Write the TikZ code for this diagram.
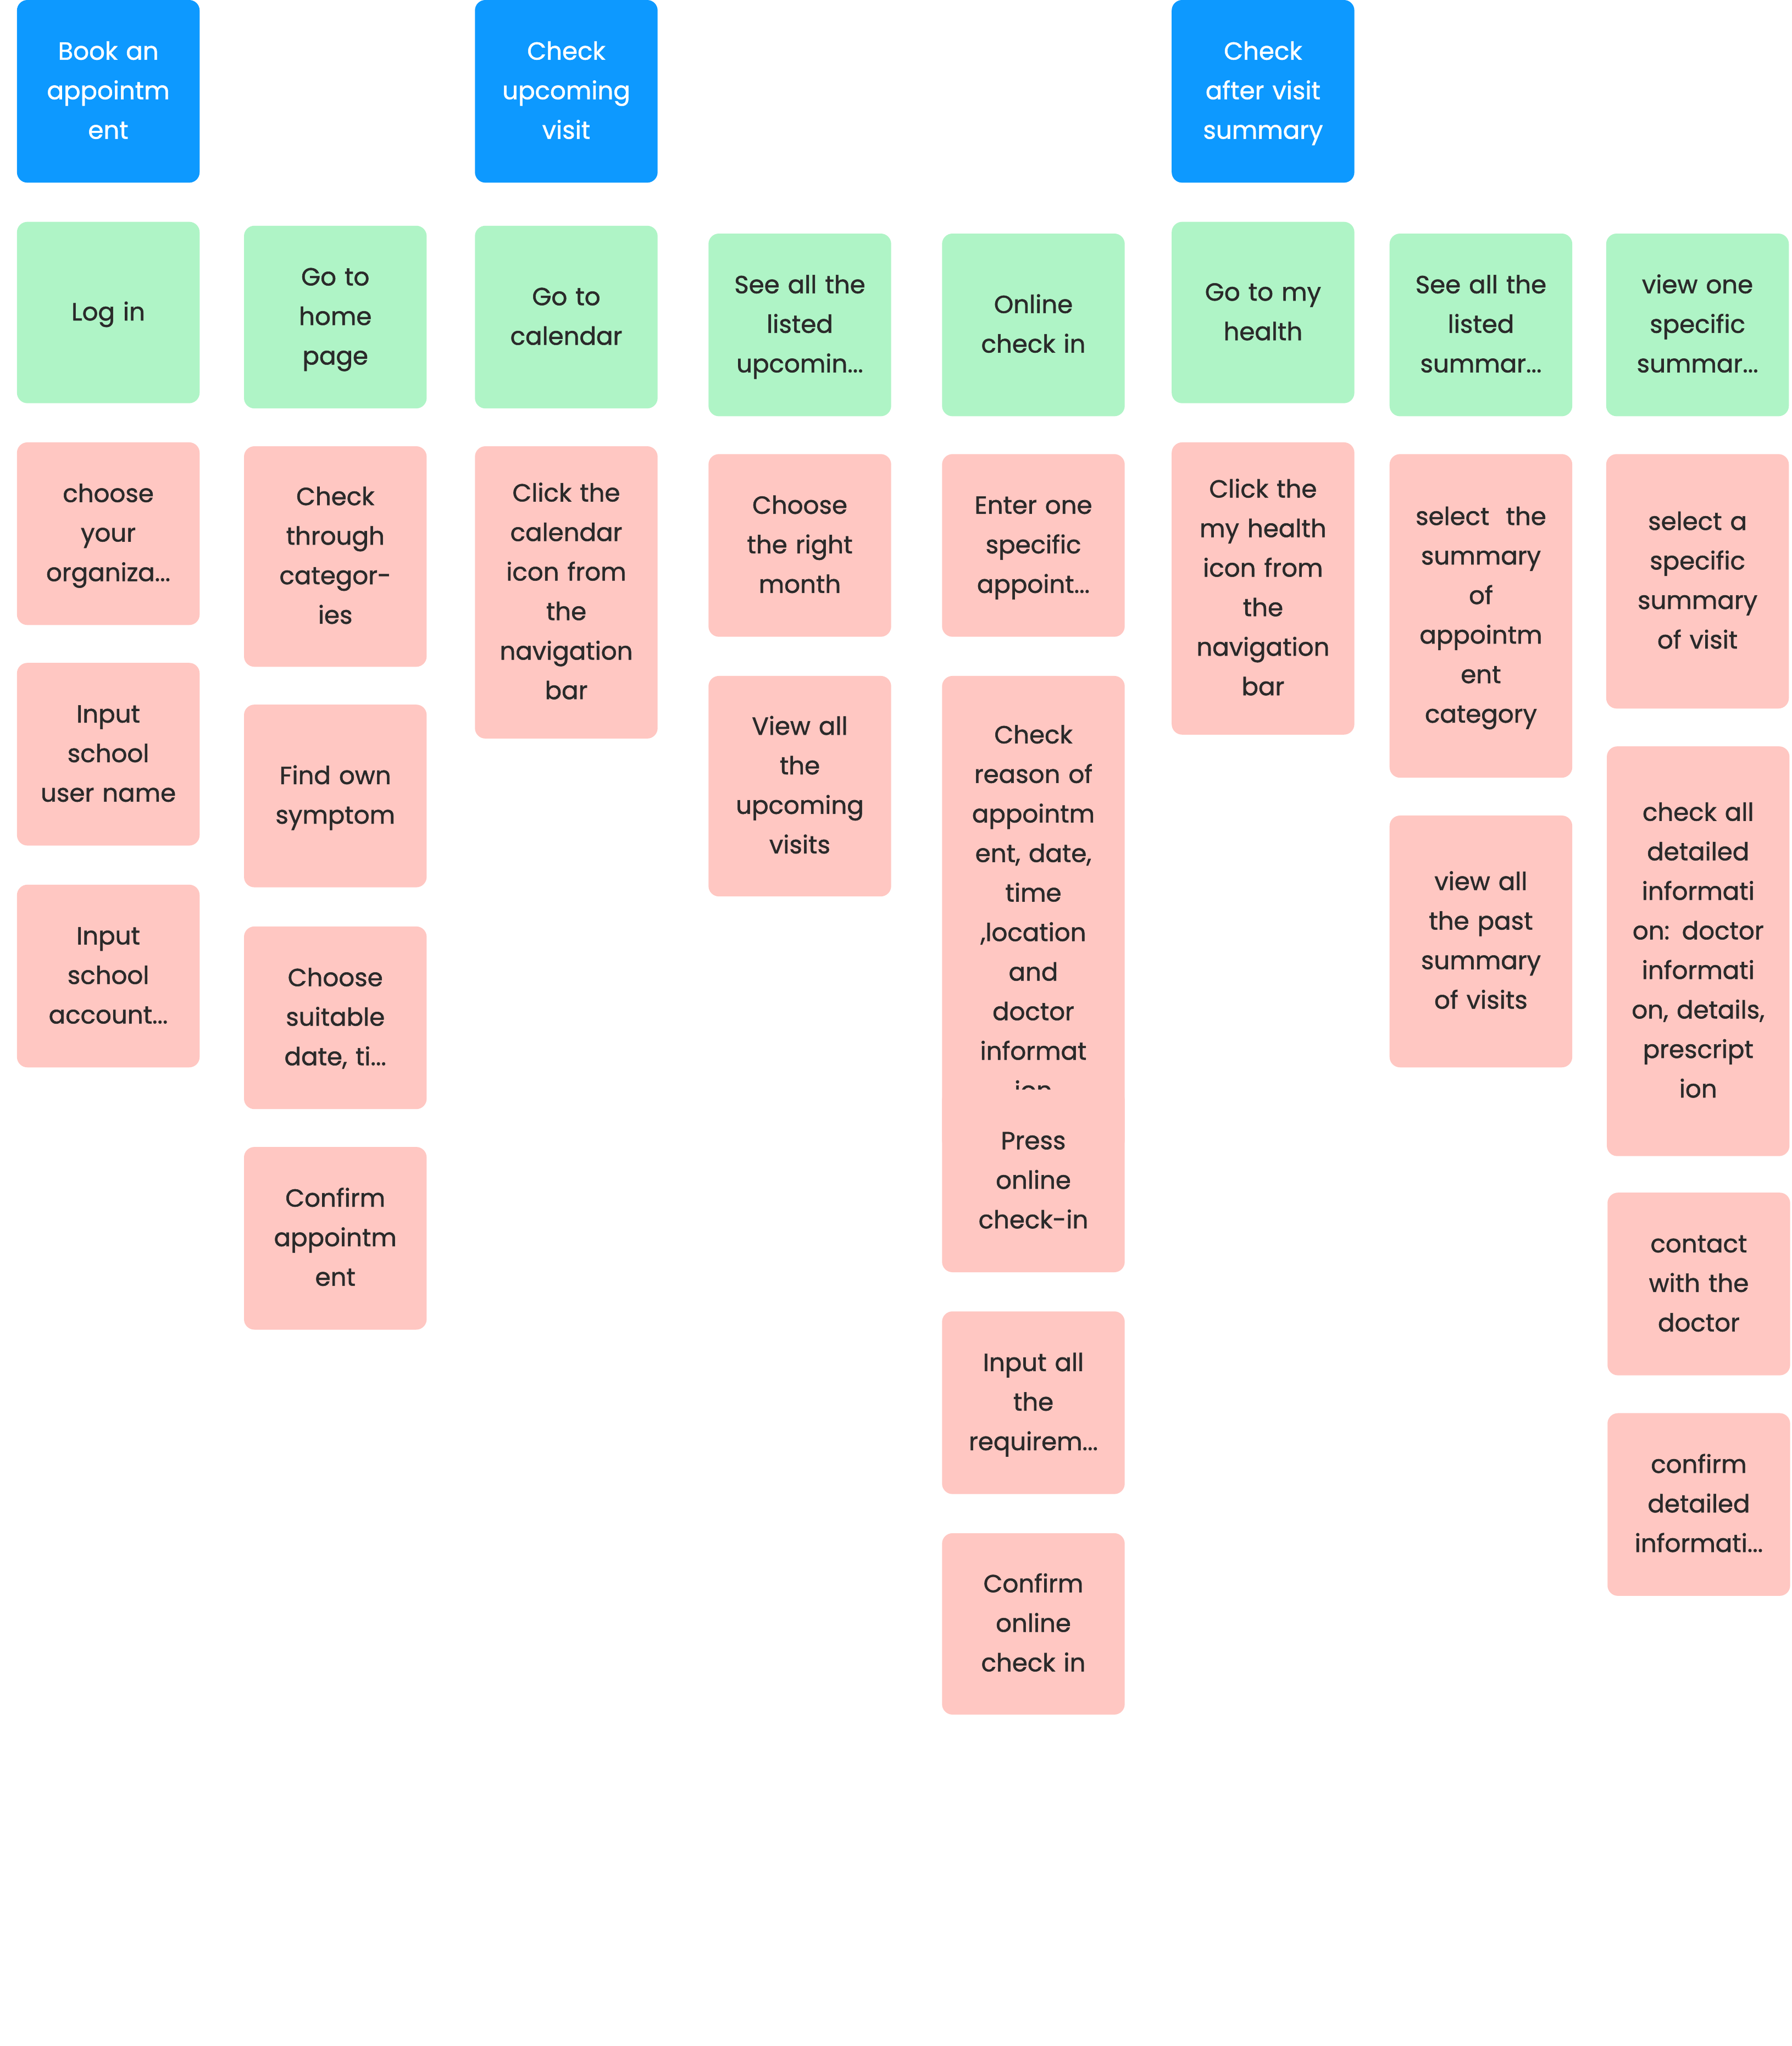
\documentclass[tikz,border=0pt]{standalone}
\usepackage{fontspec}
\setmainfont{Poppins}[FakeBold=1.2]
\definecolor{bluec}{HTML}{0D99FF}
\definecolor{greenc}{HTML}{AFF4C6}
\definecolor{pinkc}{HTML}{FFC7C2}
\definecolor{txt}{HTML}{2A2A2A}
\tikzset{
  card/.style={rounded corners=8pt, minimum width=140pt, minimum height=140pt, inner sep=0pt,
    align=center, text width=130pt, font=\fontsize{19}{30.3}\selectfont, text=txt,
    execute at begin node=\strut, execute at end node=\strut},
  bluecard/.style={card, fill=bluec, text=white},
  greencard/.style={card, fill=greenc},
  pinkcard/.style={card, fill=pinkc},
}
\begin{document}
\begin{tikzpicture}[x=1pt,y=-1pt]
\useasboundingbox[fill=white] (0,0) rectangle (1373,1568);
% headers
\node[bluecard] (b1) at (83,70) {Book an\\appointm\\ent};
\node[bluecard] (b2) at (434,70) {Check\\upcoming\\visit};
\node[bluecard] (b3) at (968,70) {Check\\after visit\\summary};
% green row
\node[greencard, minimum height=139pt] (g1) at (83,239.5) {Log in};
\node[greencard] (g2) at (257,243) {Go to\\home\\page};
\node[greencard] (g3) at (434,243) {Go to\\calendar};
\node[greencard] (g4) at (613,249) {See all the\\listed\\upcomin...};
\node[greencard] (g5) at (792,249) {Online\\check in};
\node[greencard, minimum height=139pt] (g6) at (968,239.5) {Go to my\\health};
\node[greencard] (g7) at (1135,249) {See all the\\listed\\summar...};
\node[greencard] (g8) at (1301,249) {view one\\specific\\summar...};
% column 1
\node[pinkcard] (p11) at (83,409) {choose\\your\\organiza...};
\node[pinkcard] (p12) at (83,578) {Input\\school\\user name};
\node[pinkcard] (p13) at (83,748) {Input\\school\\account...};
% column 2
\node[pinkcard, minimum height=169pt] (p21) at (257,426.5) {Check\\through\\categor-\\ies};
\node[pinkcard] (p22) at (257,610) {Find own\\symptom};
\node[pinkcard] (p23) at (257,780) {Choose\\suitable\\date, ti...};
\node[pinkcard] (p24) at (257,949) {Confirm\\appointm\\ent};
% column 3
\node[pinkcard, minimum height=224pt] (p31) at (434,454) {Click the\\calendar\\icon from\\the\\navigation\\bar};
% column 4
\node[pinkcard] (p41) at (613,418) {Choose\\the right\\month};
\node[pinkcard, minimum height=169pt] (p42) at (613,602.5) {View all\\the\\upcoming\\visits};
% column 5
\node[pinkcard] (p51) at (792,418) {Enter one\\specific\\appoint...};
\node[pinkcard, minimum height=364pt] (p52) at (792,700) {Check\\reason of\\appointm\\ent, date,\\time\\,location\\and\\doctor\\informat\\ion};
\node[pinkcard] (p53) at (792,905) {Press\\online\\check-in};
\node[pinkcard] (p54) at (792,1075) {Input all\\the\\requirem...};
\node[pinkcard, minimum height=139pt] (p55) at (792,1244.5) {Confirm\\online\\check in};
% column 6
\node[pinkcard, minimum height=224pt] (p61) at (968,451) {Click the\\my health\\icon from\\the\\navigation\\bar};
% column 7
\node[pinkcard, minimum height=248pt] (p71) at (1135,472) {select\ \ the\\summary\\of\\appointm\\ent\\category};
\node[pinkcard, minimum height=193pt] (p72) at (1135,721.5) {view all\\the past\\summary\\of visits};
% column 8
\node[pinkcard, minimum height=195pt] (p81) at (1301,445.5) {select a\\specific\\summary\\of visit};
\node[pinkcard, minimum height=314pt] (p82) at (1301.5,729) {check all\\detailed\\informati\\on: doctor\\informati\\on, details,\\prescript\\ion};
\node[pinkcard] (p83) at (1302,984) {contact\\with the\\doctor};
\node[pinkcard] (p84) at (1302,1153) {confirm\\detailed\\informati...};
\end{tikzpicture}
\end{document}
